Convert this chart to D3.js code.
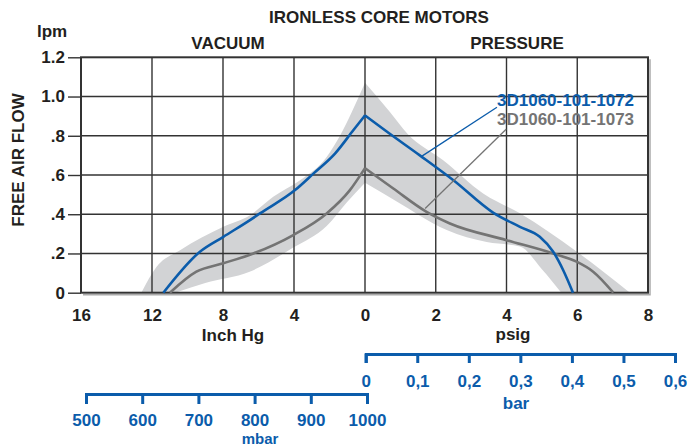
<!DOCTYPE html>
<html>
<head>
<meta charset="utf-8">
<script src="https://cdnjs.cloudflare.com/ajax/libs/d3/7.8.5/d3.min.js"></script>
<style>
body { margin: 0; background: #fff; }
svg { font-family: "Liberation Sans", Arial, sans-serif; font-weight: bold; }
</style>
</head>
<body>
<div id="chart"></div>
<script>
// tick values
var yTicks = [0, 0.2, 0.4, 0.6, 0.8, 1.0, 1.2];
var vacTicks = [16, 12, 8, 4, 0];
var psiTicks = [2, 4, 6, 8];
var barTicks = [0, 0.1, 0.2, 0.3, 0.4, 0.5, 0.6];
var mbarTicks = [500, 600, 700, 800, 900, 1000];

// curves: vacuum side [inch Hg, lpm], pressure side [psig, lpm]
var blueVac = [[11.36, 0], [9.3, 0.209], [7.98, 0.285], [6.48, 0.37], [5.92, 0.404], [3.94, 0.523], [2.91, 0.607], [1.69, 0.709], [0.66, 0.828], [0, 0.904]];
var bluePsi = [[0, 0.904], [0.565, 0.828], [1.55, 0.7], [2.5, 0.573], [3.63, 0.407], [4.38, 0.336], [4.94, 0.285], [5.32, 0.209], [5.6, 0.116], [5.88, 0]];
var grayVac = [[10.99, 0], [9.5, 0.107], [7.98, 0.15], [6.29, 0.2], [4.04, 0.294], [2.16, 0.404], [0.85, 0.523], [0, 0.635]];
var grayPsi = [[0, 0.635], [0.8, 0.531], [1.74, 0.412], [2.4, 0.353], [4.0, 0.268], [5.32, 0.2], [5.98, 0.158], [6.45, 0.107], [7.02, 0]];

// tolerance band edges
var bandUpVac = [[12.6, 0], [11.74, 0.132], [10.42, 0.217], [7.98, 0.336], [6.48, 0.395], [5.17, 0.489], [3.66, 0.573], [2.16, 0.692], [1.41, 0.8], [0.75, 0.92], [0, 1.07]];
var bandUpPsi = [[0, 1.07], [0.71, 0.92], [1.2, 0.81], [2.21, 0.675], [3.34, 0.506], [4.38, 0.405], [5.98, 0.21], [7.49, 0]];
var bandLowPsi = [[5.55, 0], [5.0, 0.12], [4.38, 0.235], [3.44, 0.258], [2.31, 0.319], [1.93, 0.353], [0.99, 0.455], [0, 0.56]];
var bandLowVac = [[0, 0.56], [1.03, 0.46], [2.16, 0.34], [4.04, 0.23], [6.5, 0.107], [9.0, 0.05], [10.7, 0]];

var labels = ["3D1060-101-1072", "3D1060-101-1073"];
// leader lines [psig, lpm] from label to curve
var leaders = [[[3.73, 0.945], [1.61, 0.696]], [[3.99, 0.833], [1.70, 0.429]]];

var blue = "#0b5cab";
var gray = "#747474";
var dark = "#231f20";

var svgWidth = 687;
var svgHeight = 447;

var svg = d3.select("#chart")
    .append("svg")
    .attr("width", svgWidth)
    .attr("height", svgHeight);

// scales
var y = d3.scaleLinear().domain([0, 1.2]).range([292.7, 57.3]);
var xVac = d3.scaleLinear().domain([16, 0]).range([81, 365]);
var xPsi = d3.scaleLinear().domain([0, 8]).range([365, 648]);
var xBar = d3.scaleLinear().domain([0, 0.6]).range([365.7, 675]);
var xMbar = d3.scaleLinear().domain([500, 1000]).range([86, 367]);

var vacLine = d3.line().x(d => xVac(d[0])).y(d => y(d[1])).curve(d3.curveMonotoneX);
var psiLine = d3.line().x(d => xPsi(d[0])).y(d => y(d[1])).curve(d3.curveMonotoneX);

// band
var bandPath = vacLine(bandUpVac)
    + psiLine(bandUpPsi).replace(/^M/, "L")
    + psiLine(bandLowPsi).replace(/^M/, "L")
    + vacLine(bandLowVac).replace(/^M/, "L") + "Z";
svg.append("path")
    .attr("d", bandPath)
    .attr("fill", "#d2d3d5");

// grid
var grid = svg.append("g")
    .attr("stroke", "#333")
    .attr("stroke-width", 1.4);
vacTicks.slice(1).forEach(function(v) {
    grid.append("line").attr("x1", xVac(v)).attr("x2", xVac(v)).attr("y1", y(0)).attr("y2", y(1.2));
});
psiTicks.slice(0, 3).forEach(function(v) {
    grid.append("line").attr("x1", xPsi(v)).attr("x2", xPsi(v)).attr("y1", y(0)).attr("y2", y(1.2));
});
yTicks.slice(1, 6).forEach(function(v) {
    grid.append("line").attr("x1", xVac(16)).attr("x2", xPsi(8)).attr("y1", y(v)).attr("y2", y(v));
});

// frame with light shadow
svg.append("path")
    .attr("d", `M${xPsi(8) + 2},${y(1.2) + 2}V${y(0) + 2}H${xVac(16) + 2}`)
    .attr("fill", "none")
    .attr("stroke", "#aaa")
    .attr("stroke-width", 1.5);
svg.append("rect")
    .attr("x", xVac(16))
    .attr("y", y(1.2))
    .attr("width", xPsi(8) - xVac(16))
    .attr("height", y(0) - y(1.2))
    .attr("fill", "none")
    .attr("stroke", "#333")
    .attr("stroke-width", 2);

// curves
[[grayVac, grayPsi, gray], [blueVac, bluePsi, blue]].forEach(function(s) {
    svg.append("path")
        .attr("d", vacLine(s[0]))
        .attr("fill", "none").attr("stroke", s[2]).attr("stroke-width", 2.6);
    svg.append("path")
        .attr("d", psiLine(s[1]))
        .attr("fill", "none").attr("stroke", s[2]).attr("stroke-width", 2.6);
});

// labels and leaders
[blue, gray].forEach(function(c, i) {
    svg.append("line")
        .attr("x1", xPsi(leaders[i][0][0])).attr("y1", y(leaders[i][0][1]))
        .attr("x2", xPsi(leaders[i][1][0])).attr("y2", y(leaders[i][1][1]))
        .attr("stroke", c).attr("stroke-width", 1.3);
    svg.append("text")
        .attr("x", 497)
        .attr("y", 106 + i * 19)
        .style("font-size", "17px")
        .style("fill", c)
        .text(labels[i]);
});

// y axis
var yFmt = d => d === 0 ? "0" : (d >= 1 ? d.toFixed(1) : d.toFixed(1).replace(/^0/, ""));
var yAxis = svg.append("g")
    .attr("transform", `translate(${xVac(16)},0)`)
    .call(d3.axisLeft(y).tickValues(yTicks).tickSize(13).tickSizeOuter(0).tickPadding(3).tickFormat(yFmt));
yAxis.select(".domain").remove();
yAxis.selectAll("line").attr("stroke", "#333").attr("stroke-width", 1.4);
yAxis.selectAll("text").style("font-size", "17px").style("fill", dark).attr("font-family", null);

// main x axes (labels only)
function plainAxis(scale, ticks) {
    var g = svg.append("g")
        .attr("transform", `translate(0,${y(0)})`)
        .call(d3.axisBottom(scale).tickValues(ticks).tickSize(0).tickPadding(16).tickFormat(d3.format("d")));
    g.select(".domain").remove();
    g.selectAll("text").style("font-size", "17px").style("fill", dark).attr("font-family", null);
}
plainAxis(xVac, vacTicks);
plainAxis(xPsi, psiTicks);

// blue unit brackets
function bracketAxis(scale, ticks, yPos, size, pad, fmt) {
    var g = svg.append("g")
        .attr("transform", `translate(0,${yPos})`)
        .call(d3.axisBottom(scale).tickValues(ticks).tickSize(size).tickSizeOuter(size).tickPadding(pad).tickFormat(fmt));
    g.select(".domain").attr("stroke", blue).attr("stroke-width", 3);
    g.selectAll("line").attr("stroke", blue).attr("stroke-width", 3);
    g.selectAll("text").style("font-size", "17px").style("fill", blue).attr("font-family", null);
}
bracketAxis(xBar, barTicks, 354, 9, 12, d => d === 0 ? "0" : d.toFixed(1).replace(".", ","));
bracketAxis(xMbar, mbarTicks, 394, 10, 10, d3.format("d"));

// titles
function label(txt, x, yy, color, anchor) {
    return svg.append("text")
        .attr("x", x).attr("y", yy)
        .attr("text-anchor", anchor || "middle")
        .style("font-size", "17px")
        .style("fill", color || dark)
        .text(txt);
}
label("IRONLESS CORE MOTORS", 379, 22.5);
label("lpm", 37, 37, dark, "start");
label("VACUUM", 228, 49);
label("PRESSURE", 517, 48.5);
label("Inch Hg", 233, 340.5);
label("psig", 513, 340);
label("bar", 516, 409, blue);
label("mbar", 260, 443.8, blue).style("font-size", "15px");
label("FREE AIR FLOW", 0, 0)
    .attr("transform", "translate(24,160) rotate(-90)");
</script>
</body>
</html>
